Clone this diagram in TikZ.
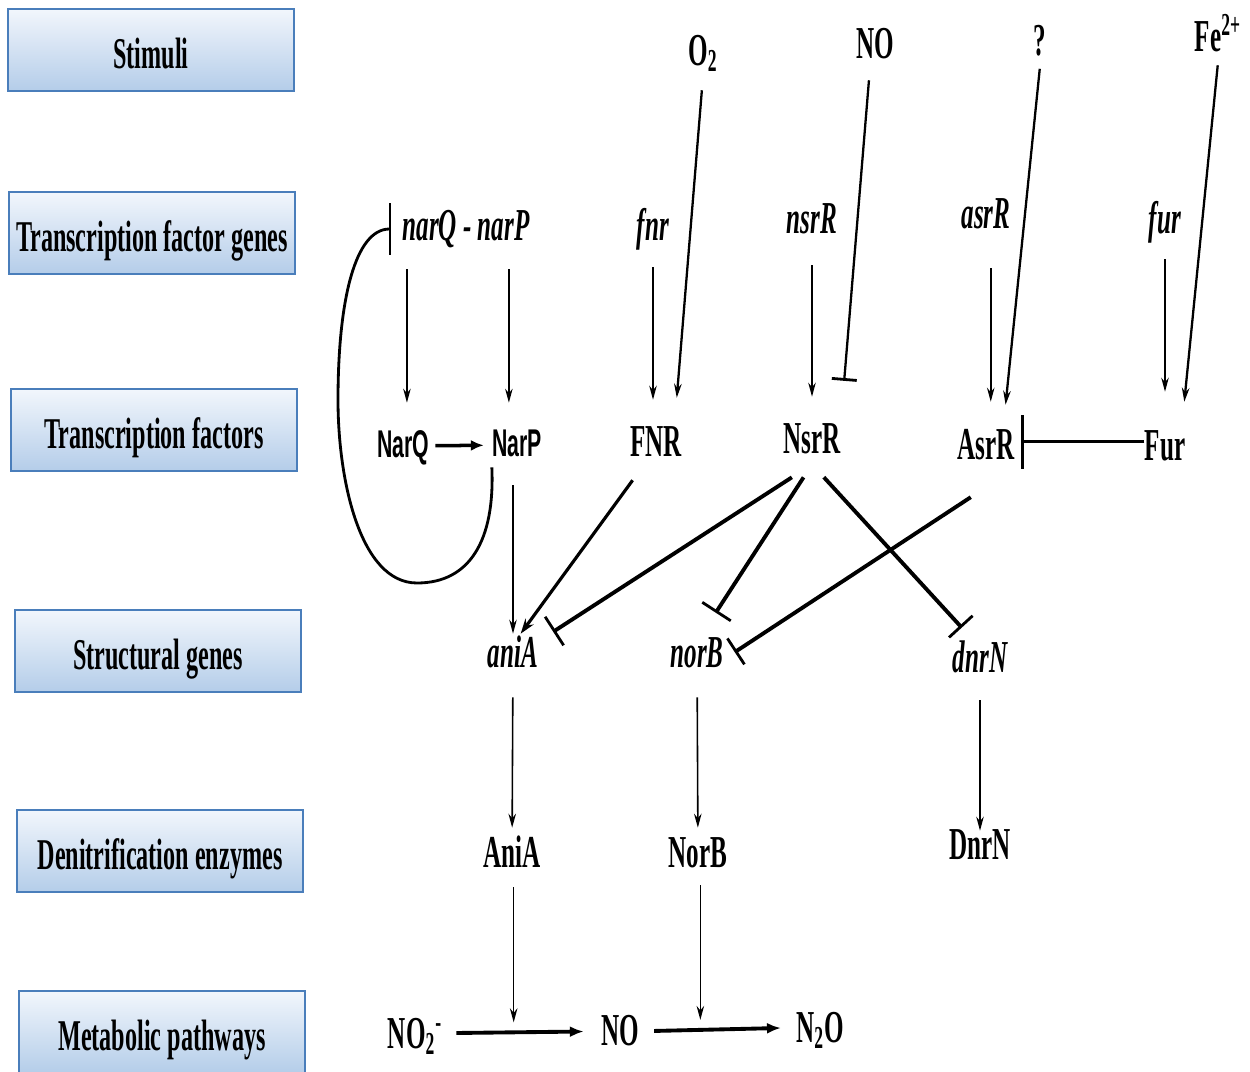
\documentclass[tikz,border=0pt]{standalone}
\usepackage{fontspec}
\setmainfont{Liberation Serif}[FakeStretch=0.55]
\newfontfamily\narfont{Liberation Sans}[FakeStretch=0.55]
\usetikzlibrary{arrows.meta}

\definecolor{boxtop}{RGB}{242,246,252}
\definecolor{boxbot}{RGB}{180,205,233}
\definecolor{boxline}{RGB}{74,126,187}

\tikzset{
  cat/.style={rectangle, draw=boxline, line width=0.8pt, top color=boxtop, bottom color=boxbot,
    minimum width=5.72cm, minimum height=1.64cm, inner sep=0pt, text height=24pt, text depth=3pt,
    font=\fontsize{25}{30}\selectfont\bfseries},
  lab/.style={inner sep=0pt, text height=19pt, text depth=6pt, font=\fontsize{26}{31}\selectfont\bfseries},
  gen/.style={lab, font=\fontsize{26}{31}\selectfont\bfseries\itshape},
  sig/.style={lab, font=\fontsize{22}{26}\selectfont\narfont\bfseries},
  act/.style={-{Stealth[length=0.28cm,width=0.15cm]}, line width=0.9pt},
  inh/.style={-{Bar[width=#1,line width=1.6pt]}, line width=2.2pt},
  inh/.default=0.68cm,
  rxn/.style={-{Latex[length=0.28cm,width=0.22cm]}, line width=2.2pt}
}

\begin{document}
\begin{tikzpicture}[x=0.02cm,y=-0.02cm]
\useasboundingbox (0,0) rectangle (1250,1071);
\foreach \x/\y/\t [count=\i] in {151/50/Stimuli, 152/233/Transcription factor genes,
    154/430/Transcription factors, 158/651/Structural genes,
    160/851/Denitrification enzymes, 162/1032/Metabolic pathways}
  \node[cat] (cat\i) at (\x,\y) {\t};

\node[lab] (o2) at (703,54) {O\textsubscript{2}};
\node[lab] (nostim) at (875,47) {NO};
\node[lab] (unk) at (1040,44) {?};
\node[lab] (fe) at (1218,40) {Fe\textsuperscript{2+}};

\node[gen] (narqp) at (466,229) {narQ - narP};
\node[gen] (fnr) at (653,229) {fnr};
\node[gen] (nsrr) at (812,222) {nsrR};
\node[gen] (asrr) at (986,217) {asrR};
\node[gen] (fur) at (1165,222) {fur};

\node[sig] (NarQ) at (403,446) {NarQ};
\node[sig] (NarP) at (517,445) {NarP};
\node[lab] (FNR) at (656,445) {FNR};
\node[lab] (NsrR) at (812,442) {NsrR};
\node[lab] (AsrR) at (986,448) {AsrR};
\node[lab] (Fur) at (1165,449) {Fur};

\node[gen] (ania) at (513,656) {aniA};
\node[gen] (norb) at (697,656) {norB};
\node[gen] (dnrn) at (980,661) {dnrN};

\node[lab] (AniA) at (512,856) {AniA};
\node[lab] (NorB) at (698,856) {NorB};
\node[lab] (DnrN) at (980,848) {DnrN};

\node[lab] (no2) at (415,1037) {NO\textsubscript{2}\textsuperscript{-}};
\node[lab] (no) at (620,1034) {NO};
\node[lab] (n2o) at (820,1031) {N\textsubscript{2}O};

\draw[act,shorten <=0.36cm,shorten >=0.42cm] (narqp.south -| NarQ.80) -- (NarQ.80);
\draw[act,shorten <=0.36cm,shorten >=0.4cm] (narqp.south -| NarP.110) -- (NarP.110);
\draw[act,shorten <=0.32cm,shorten >=0.46cm] (fnr.south) -- (fnr.south |- FNR.north);
\draw[act,shorten <=0.42cm,shorten >=0.46cm] (nsrr) -- (NsrR);
\draw[act,shorten <=0.58cm,shorten >=0.48cm] (asrr.south -| AsrR.78) -- (AsrR.78);
\draw[act,shorten <=0.3cm,shorten >=0.7cm] (fur) -- (Fur);

\draw[act,line width=1.3pt,shorten <=0.28cm,shorten >=0.5cm] (o2.south) -- (FNR.50);
\draw[inh=0.5cm,line width=1.3pt,shorten <=0.22cm,shorten >=0.78cm] (nostim.257) -- (NsrR.north east);
\draw[act,line width=1.3pt,shorten <=0.05cm,shorten >=0.42cm] (unk.south) -- (AsrR.52);
\draw[act,line width=1.3pt,shorten <=0.06cm,shorten >=0.5cm] (fe.south) -- (Fur.53);

\draw[-{Latex[length=0.26cm,width=0.22cm]},line width=2pt,shorten <=0.12cm,shorten >=0.16cm] (NarQ) -- (NarP);
\draw[inh=1.08cm,shorten >=0.12cm] (Fur.160) -- (Fur.160 -| AsrR.east);
\draw[-{Bar[width=1.04cm,line width=1.2pt]},line width=1.6pt] (NarP.south west)
  .. controls (495,540) and (470,583) .. (417,583)
  .. controls (360,583) and (338,480) .. (338,400)
  .. controls (338,300) and (355,229) .. ([xshift=-0.22cm]narqp.west);

\draw[act,shorten <=0.36cm] (ania.north |- NarP.south) -- (ania.north);
\draw[-{Stealth[length=0.3cm,width=0.2cm]},line width=1.8pt,shorten <=0.32cm] (FNR.238) -- (ania.71);
\draw[inh,shorten <=0.48cm,shorten >=0.35cm] (NsrR.south) -- (ania.30);
\draw[inh,shorten <=0.31cm,shorten >=0.5cm] (NsrR.south) -- (norb.77);
\draw[inh=0.64cm,shorten <=0.35cm,shorten >=0.3cm] (NsrR.south) -- (dnrn.110);
\draw[inh=0.62cm,shorten <=0.98cm,shorten >=0.26cm] (AsrR.-41) -- (norb.-7);

\draw[act,shorten <=0.38cm,shorten >=0.12cm] (ania) -- (AniA);
\draw[act,shorten <=0.38cm,shorten >=0.12cm] (norb) -- (NorB);
\draw[act,shorten <=0.34cm,shorten >=-0.1cm] (dnrn) -- (DnrN);

\draw[rxn,shorten <=0.28cm,shorten >=0.34cm] (no2.8) -- coordinate[pos=0.45] (r1) (no.172);
\draw[rxn,shorten <=0.3cm,shorten >=0.3cm] (no.8) -- coordinate[pos=0.39] (r2) (n2o.172);
\draw[act,shorten <=0.18cm,shorten >=0.2cm] (AniA.south -| r1) -- (r1);
\draw[act,shorten <=0.14cm,shorten >=0.2cm] (NorB.south -| r2) -- (r2);
\end{tikzpicture}
\end{document}
